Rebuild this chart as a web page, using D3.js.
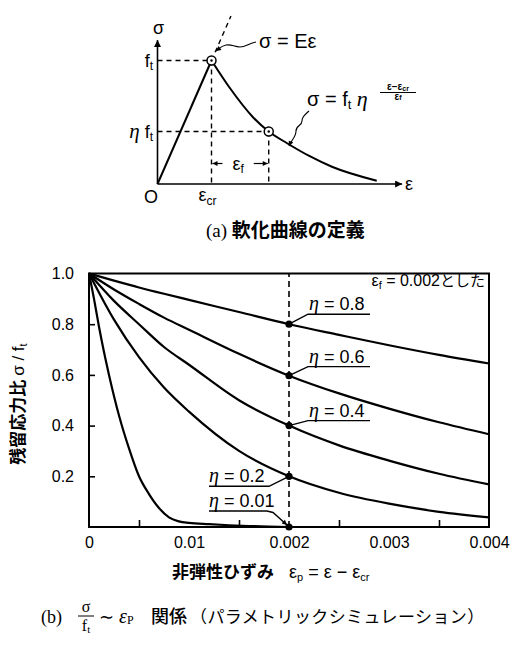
<!DOCTYPE html>
<html>
<head>
<meta charset="utf-8">
<script src="https://cdn.jsdelivr.net/npm/d3@7"></script>
<style>
  body { margin: 0; background: #fff; }
  svg { display: block; }
</style>
</head>
<body>
<div id="chart"></div>
<script>
// ---------- (b) data : residual stress ratio vs inelastic strain ----------
const epsGrid = [0, 0.00025, 0.0005, 0.00075, 0.001, 0.0015, 0.002, 0.0025, 0.003, 0.0035, 0.004];
const ratioEta08 = [1.0, 0.972, 0.945, 0.92, 0.896, 0.848, 0.80, 0.758, 0.717, 0.679, 0.645];
const ratioEta06 = [1.0, 0.937, 0.88, 0.826, 0.778, 0.683, 0.597, 0.527, 0.467, 0.413, 0.366];
const ratioEta04 = [1.0, 0.892, 0.80, 0.71, 0.64, 0.50, 0.40, 0.322, 0.262, 0.21, 0.168];
const ratioEta02 = [1.0, 0.818, 0.67, 0.55, 0.455, 0.30, 0.20, 0.135, 0.092, 0.06, 0.038];
const epsGrid001 = [0, 0.00005, 0.0001, 0.00015, 0.0002, 0.0003, 0.0004, 0.0005, 0.0006, 0.0007,
                    0.0008, 0.0009, 0.001, 0.0012, 0.0014, 0.0016, 0.0018, 0.002];
const ratioEta001 = [1.0, 0.90, 0.79, 0.69, 0.60, 0.44, 0.31, 0.20, 0.13, 0.075,
                     0.038, 0.022, 0.016, 0.011, 0.007, 0.004, 0.002, 0.0];
const etaNames = ["0.8", "0.6", "0.4", "0.2", "0.01"];
const epsF = 0.002;

const xTickVals = [0, 0.001, 0.002, 0.003, 0.004];
const xTickLabels = ["0", "0.01", "0.002", "0.003", "0.004"];
const xMinorTicks = [0.0005, 0.0015, 0.0025, 0.0035];
const yTickVals = [0.2, 0.4, 0.6, 0.8, 1.0];
const yTickLabels = ["0.2", "0.4", "0.6", "0.8", "1.0"];

// ---------- (a) data : softening curve sketch (units of eps_cr, f_t) ----------
const softStrain = [1.0, 1.34, 1.76, 2.06, 2.40, 2.81, 3.23, 4.06];
const softStress = [1.0, 0.777, 0.545, 0.425, 0.33, 0.227, 0.14, 0.027];
const etaSketch = 0.425;
const epsFSketch = 1.06;

const SANS = "'Liberation Sans', Arial, Helvetica, sans-serif";
const SERIF = "'Liberation Serif', 'Times New Roman', serif";
const JP = "'Noto Sans CJK JP', sans-serif";

const svg = d3.select("#chart").append("svg")
    .attr("width", 532)
    .attr("height", 659)
    .style("background", "#fff");

const defs = svg.append("defs");
defs.append("marker")
    .attr("id", "arrowBig")
    .attr("viewBox", "0 0 10 10")
    .attr("refX", 10).attr("refY", 5)
    .attr("markerUnits", "userSpaceOnUse")
    .attr("markerWidth", 11).attr("markerHeight", 7)
    .attr("orient", "auto")
    .append("path").attr("d", "M0,0 L10,5 L0,10 Z").attr("fill", "#000");
defs.append("marker")
    .attr("id", "arrowSmall")
    .attr("viewBox", "0 0 10 10")
    .attr("refX", 10).attr("refY", 5)
    .attr("markerUnits", "userSpaceOnUse")
    .attr("markerWidth", 7).attr("markerHeight", 5)
    .attr("orient", "auto")
    .append("path").attr("d", "M0,0 L10,5 L0,10 Z").attr("fill", "#000");

// =====================================================================
// (a) 軟化曲線の定義
// =====================================================================
const xA = d3.scaleLinear().domain([0, 1]).range([157.5, 211.5]);
const yA = d3.scaleLinear().domain([0, 1]).range([184, 60.5]);
const gA = svg.append("g");

// axes with arrows
gA.append("line")
    .attr("x1", xA(0)).attr("y1", yA(0)).attr("x2", xA(4.53)).attr("y2", yA(0))
    .attr("stroke", "#000").attr("stroke-width", 1.6).attr("marker-end", "url(#arrowBig)");
gA.append("line")
    .attr("x1", xA(0)).attr("y1", yA(0)).attr("x2", xA(0)).attr("y2", yA(1.165))
    .attr("stroke", "#000").attr("stroke-width", 1.6).attr("marker-end", "url(#arrowBig)");

// dashed guides
const guides = [
    [[0, 1], [1, 1]],
    [[1, 1], [1, 0]],
    [[0, etaSketch], [1 + epsFSketch, etaSketch]],
    [[1 + epsFSketch, etaSketch], [1 + epsFSketch, 0]],
    [[1, 1], [1.36, 1.36]]
];
gA.selectAll(".guide")
    .data(guides)
    .enter()
    .append("line")
    .attr("class", "guide")
    .attr("x1", d => xA(d[0][0])).attr("y1", d => yA(d[0][1]))
    .attr("x2", d => xA(d[1][0])).attr("y2", d => yA(d[1][1]))
    .attr("stroke", "#000").attr("stroke-width", 1.4).attr("stroke-dasharray", "5,4");

// elastic branch
gA.append("line")
    .attr("x1", xA(0)).attr("y1", yA(0)).attr("x2", xA(1)).attr("y2", yA(1))
    .attr("stroke", "#000").attr("stroke-width", 2);

// softening branch
gA.append("path")
    .datum(d3.zip(softStrain, softStress))
    .attr("fill", "none").attr("stroke", "#000").attr("stroke-width", 2)
    .attr("d", d3.line().x(d => xA(d[0])).y(d => yA(d[1])).curve(d3.curveMonotoneX));

// circled points
const keyPts = [[1, 1], [1 + epsFSketch, etaSketch]];
keyPts.forEach(p => {
    gA.append("circle").attr("cx", xA(p[0])).attr("cy", yA(p[1])).attr("r", 4.5)
        .attr("fill", "#fff").attr("stroke", "#000").attr("stroke-width", 1.5);
    gA.append("circle").attr("cx", xA(p[0])).attr("cy", yA(p[1])).attr("r", 1.2).attr("fill", "#000");
});

// eps_f dimension
const dimY = 163.5;
gA.append("line")
    .attr("x1", xA(1) + 11).attr("y1", dimY).attr("x2", xA(1) + 1).attr("y2", dimY)
    .attr("stroke", "#000").attr("stroke-width", 1.2).attr("marker-end", "url(#arrowSmall)");
gA.append("line")
    .attr("x1", xA(1 + epsFSketch) - 15).attr("y1", dimY).attr("x2", xA(1 + epsFSketch) - 1).attr("y2", dimY)
    .attr("stroke", "#000").attr("stroke-width", 1.2).attr("marker-end", "url(#arrowSmall)");
const efTxt = gA.append("text")
    .attr("x", (xA(1) + xA(1 + epsFSketch)) / 2 - 2).attr("y", dimY + 6)
    .attr("text-anchor", "middle").attr("font-family", SANS).attr("font-size", 18);
efTxt.append("tspan").text("ε");
efTxt.append("tspan").attr("font-size", 12).attr("dy", 3).text("f");

// leaders
gA.append("path")
    .attr("d", "M256,42 C249,43 246,47 240,47 C234,47 232,44 226,45 C221,46 220,48 216,51")
    .attr("fill", "none").attr("stroke", "#000").attr("stroke-width", 1.1)
    .attr("marker-end", "url(#arrowSmall)");
gA.append("path")
    .attr("d", "M309,111 C305,115 302,116 302,121 C302,126 296,125 296,131 C296,137 292,139 289,146")
    .attr("fill", "none").attr("stroke", "#000").attr("stroke-width", 1.1)
    .attr("marker-end", "url(#arrowSmall)");

// labels of sketch
gA.append("text").attr("x", xA(0) + 1).attr("y", 34).attr("text-anchor", "middle")
    .attr("font-family", SANS).attr("font-size", 18).text("σ");
const ftTxt = gA.append("text").attr("x", 153).attr("y", yA(1) + 6).attr("text-anchor", "end")
    .attr("font-family", SANS).attr("font-size", 18);
ftTxt.append("tspan").text("f");
ftTxt.append("tspan").attr("font-size", 12).attr("dy", 3).text("t");
const etaFtTxt = gA.append("text").attr("x", 153).attr("y", yA(etaSketch) + 6).attr("text-anchor", "end")
    .attr("font-family", SANS).attr("font-size", 18);
etaFtTxt.append("tspan").attr("font-family", SERIF).attr("font-style", "italic").attr("font-size", 21).text("η");
etaFtTxt.append("tspan").text(" f");
etaFtTxt.append("tspan").attr("font-size", 12).attr("dy", 3).text("t");
gA.append("text").attr("x", 151).attr("y", 203).attr("text-anchor", "middle")
    .attr("font-family", SANS).attr("font-size", 18).text("O");
const ecrTxt = gA.append("text").attr("x", xA(1) - 4).attr("y", 201).attr("text-anchor", "middle")
    .attr("font-family", SANS).attr("font-size", 18);
ecrTxt.append("tspan").text("ε");
ecrTxt.append("tspan").attr("font-size", 12).attr("dy", 4).text("cr");
gA.append("text").attr("x", 405).attr("y", 190).attr("font-family", SANS).attr("font-size", 18).text("ε");
gA.append("text").attr("x", 259).attr("y", 48).attr("font-family", SANS).attr("font-size", 20).text("σ = Eε");

const formula = gA.append("text").attr("x", 307).attr("y", 106).attr("font-family", SANS).attr("font-size", 20);
formula.append("tspan").text("σ = f");
formula.append("tspan").attr("font-size", 13).attr("dy", 3).text("t");
formula.append("tspan").attr("dy", -3).attr("font-family", SERIF).attr("font-style", "italic")
    .attr("font-size", 22).text(" η");
const fracX = 398;
const num = gA.append("text").attr("x", fracX).attr("y", 90).attr("text-anchor", "middle")
    .attr("font-family", SANS).attr("font-size", 10).attr("font-weight", "bold");
num.append("tspan").text("ε−ε");
num.append("tspan").attr("font-size", 7).attr("dy", 1).text("cr");
gA.append("line").attr("x1", fracX - 18).attr("x2", fracX + 18).attr("y1", 92.5).attr("y2", 92.5)
    .attr("stroke", "#000").attr("stroke-width", 1.1);
const den = gA.append("text").attr("x", fracX).attr("y", 100).attr("text-anchor", "middle")
    .attr("font-family", SANS).attr("font-size", 10).attr("font-weight", "bold");
den.append("tspan").text("ε");
den.append("tspan").attr("font-size", 7).text("f");

// caption (a)
const capA = svg.append("text").attr("x", 206).attr("y", 237).attr("font-size", 19);
capA.append("tspan").attr("font-family", SERIF).text("(a) ");
capA.append("tspan").attr("font-family", JP).attr("font-weight", 700).text("軟化曲線の定義");

// =====================================================================
// (b) σ/ft ~ εp 関係
// =====================================================================
const xB = d3.scaleLinear().domain([0, 0.004]).range([89, 489]);
const yB = d3.scaleLinear().domain([0, 1]).range([527, 273.5]);
const gB = svg.append("g");

// minor inward ticks
const gxTicks = gB.append("g").attr("transform", `translate(0,${yB(0)})`)
    .call(d3.axisBottom(xB).tickValues(xMinorTicks).tickSize(-7).tickFormat(""));
gxTicks.select(".domain").remove();
gxTicks.selectAll("line").attr("stroke-width", 1.6);
const gyTicks = gB.append("g").attr("transform", `translate(${xB(0)},0)`)
    .call(d3.axisLeft(yB).tickValues([0.2, 0.4, 0.6, 0.8]).tickSize(-6).tickFormat(""));
gyTicks.select(".domain").remove();
gyTicks.selectAll("line").attr("stroke-width", 1.6);

// tick labels
const gxLab = gB.append("g").attr("transform", `translate(0,${yB(0)})`)
    .call(d3.axisBottom(xB).tickValues(xTickVals).tickSize(0).tickPadding(10)
        .tickFormat((d, i) => xTickLabels[i]));
gxLab.select(".domain").remove();
gxLab.selectAll("text").attr("font-family", SANS).attr("font-size", 16).attr("fill", "#000");
const gyLab = gB.append("g").attr("transform", `translate(${xB(0)},0)`)
    .call(d3.axisLeft(yB).tickValues(yTickVals).tickSize(0).tickPadding(15)
        .tickFormat((d, i) => yTickLabels[i]));
gyLab.select(".domain").remove();
gyLab.selectAll("text").attr("font-family", SANS).attr("font-size", 16).attr("fill", "#000");

// frame
gB.append("rect")
    .attr("x", xB(0)).attr("y", yB(1))
    .attr("width", xB(0.004) - xB(0)).attr("height", yB(0) - yB(1))
    .attr("fill", "none").attr("stroke", "#000").attr("stroke-width", 2);

// curves
const series = [
    { eta: etaNames[0], xs: epsGrid, ys: ratioEta08 },
    { eta: etaNames[1], xs: epsGrid, ys: ratioEta06 },
    { eta: etaNames[2], xs: epsGrid, ys: ratioEta04 },
    { eta: etaNames[3], xs: epsGrid, ys: ratioEta02 },
    { eta: etaNames[4], xs: epsGrid001, ys: ratioEta001 }
];
const lineB = d3.line().x(d => xB(d[0])).y(d => yB(d[1])).curve(d3.curveMonotoneX);
gB.selectAll(".curve")
    .data(series)
    .enter()
    .append("path")
    .attr("class", "curve")
    .attr("fill", "none").attr("stroke", "#000").attr("stroke-width", 2.2)
    .attr("d", d => lineB(d3.zip(d.xs, d.ys)));

// dashed line at eps_f
gB.append("line")
    .attr("x1", xB(epsF)).attr("x2", xB(epsF)).attr("y1", yB(0)).attr("y2", yB(1))
    .attr("stroke", "#000").attr("stroke-width", 1.6).attr("stroke-dasharray", "6,4");

// points at eps_f
series.forEach(s => {
    s.atF = s.ys[s.xs.indexOf(epsF)];
});
gB.selectAll(".dot")
    .data(series)
    .enter()
    .append("circle")
    .attr("class", "dot")
    .attr("cx", xB(epsF)).attr("cy", d => yB(d.atF)).attr("r", 3.6).attr("fill", "#000");

// η labels with leaders
function etaLabel(x, y, name) {
    const t = gB.append("text").attr("x", x).attr("y", y).attr("font-family", SANS).attr("font-size", 18);
    t.append("tspan").attr("font-family", SERIF).attr("font-style", "italic").attr("font-size", 20).text("η");
    t.append("tspan").text(" = " + name);
}
const upperOffsets = [-10, -9, -5];
series.slice(0, 3).forEach((s, i) => {
    const px = xB(epsF), py = yB(s.atF);
    const uy = py + upperOffsets[i];
    gB.append("path")
        .attr("d", `M${px},${py} L${px + 19},${uy} L${px + 81},${uy}`)
        .attr("fill", "none").attr("stroke", "#000").attr("stroke-width", 1.4);
    etaLabel(px + 20, uy - 4, s.eta);
});
// η = 0.2
{
    const s = series[3];
    const px = xB(epsF), py = yB(s.atF);
    gB.append("path")
        .attr("d", `M209,${py + 10} L${px - 20},${py + 10} L${px},${py}`)
        .attr("fill", "none").attr("stroke", "#000").attr("stroke-width", 1.4);
    etaLabel(209, py + 6, s.eta);
}
// η = 0.01
{
    const s = series[4];
    const px = xB(epsF), py = yB(s.atF);
    gB.append("path")
        .attr("d", `M209,${py - 16} L${px - 22},${py - 16} L${px - 16},${py - 14.5} L${px - 2},${py - 2}`)
        .attr("fill", "none").attr("stroke", "#000").attr("stroke-width", 1.4)
        .attr("marker-end", "url(#arrowSmall)");
    etaLabel(209, py - 20, s.eta);
}

// note
const note = gB.append("text").attr("x", 485).attr("y", 286).attr("text-anchor", "end")
    .attr("font-family", SANS).attr("font-size", 16);
note.append("tspan").text("ε");
note.append("tspan").attr("font-size", 11).attr("dy", 3).text("f");
note.append("tspan").attr("dy", -3).text(" = 0.002");
note.append("tspan").attr("font-family", JP).attr("font-size", 15).text("とした");

// axis titles
const yTitle = gB.append("text")
    .attr("transform", "translate(24,404) rotate(-90)")
    .attr("text-anchor", "middle").attr("font-size", 17).attr("font-weight", 700);
yTitle.append("tspan").attr("font-family", JP).text("残留応力比 ");
yTitle.append("tspan").attr("font-family", SANS).attr("font-weight", 400).text(" σ / f");
yTitle.append("tspan").attr("font-family", SANS).attr("font-weight", 400).attr("font-size", 11).attr("dy", 3).text("t");

gB.append("text").attr("x", 172).attr("y", 578)
    .attr("font-family", JP).attr("font-size", 17).attr("font-weight", 700).text("非弾性ひずみ");
const xTitleMath = gB.append("text").attr("x", 289).attr("y", 578)
    .attr("font-family", SANS).attr("font-size", 18);
xTitleMath.append("tspan").text("ε");
xTitleMath.append("tspan").attr("font-size", 11).attr("dy", 3).text("p");
xTitleMath.append("tspan").attr("dy", -3).text(" = ε − ε");
xTitleMath.append("tspan").attr("font-size", 11).attr("dy", 3).text("cr");

// caption (b)
svg.append("text").attr("x", 41).attr("y", 623).attr("font-family", SERIF).attr("font-size", 18).text("(b)");
svg.append("text").attr("x", 86).attr("y", 612).attr("text-anchor", "middle")
    .attr("font-family", SERIF).attr("font-size", 16).text("σ");
svg.append("line").attr("x1", 78).attr("x2", 94).attr("y1", 616).attr("y2", 616)
    .attr("stroke", "#000").attr("stroke-width", 1);
const ftCap = svg.append("text").attr("x", 86).attr("y", 631).attr("text-anchor", "middle")
    .attr("font-family", SERIF).attr("font-size", 16);
ftCap.append("tspan").text("f");
ftCap.append("tspan").attr("font-size", 11).attr("dy", 2).text("t");
svg.append("text").attr("x", 99).attr("y", 623).attr("font-family", SERIF).attr("font-size", 18).text("∼");
const epCap = svg.append("text").attr("x", 119).attr("y", 623).attr("font-family", SERIF).attr("font-size", 20);
epCap.append("tspan").attr("font-style", "italic").text("ε");
epCap.append("tspan").attr("font-size", 12).attr("dy", 1).text("P");
svg.append("text").attr("x", 151).attr("y", 623).attr("font-family", JP).attr("font-size", 18)
    .attr("font-weight", 500).text("関係");
svg.append("text").attr("x", 190).attr("y", 623).attr("font-family", JP).attr("font-size", 17)
    .attr("letter-spacing", 0.4).text("（パラメトリックシミュレーション）");
</script>
</body>
</html>
